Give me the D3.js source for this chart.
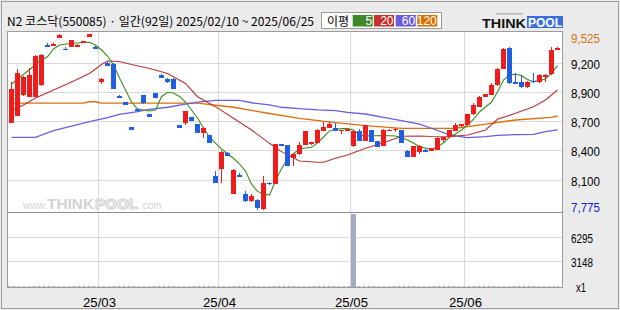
<!DOCTYPE html>
<html>
<head>
<meta charset="utf-8">
<script src="https://cdn.jsdelivr.net/npm/d3@7"></script>
<style>
html, body { margin: 0; padding: 0; background: #ebebeb; }
svg { display: block; }
</style>
</head>
<body>
<svg id="chart" width="620" height="310"></svg>
<script>
// trading days 2025/02/10 ~ 2025/06/25 (92)
var dates = [
    '02/10','02/11','02/12','02/13','02/14','02/17','02/18','02/19','02/20','02/21','02/24','02/25','02/26','02/27','02/28',
    '03/04','03/05','03/06','03/07','03/10','03/11','03/12','03/13','03/14','03/17','03/18','03/19','03/20','03/21','03/24','03/25','03/26','03/27','03/28','03/31',
    '04/01','04/02','04/03','04/04','04/07','04/08','04/09','04/10','04/11','04/14','04/15','04/16','04/17','04/18','04/21','04/22','04/23','04/24','04/25','04/28','04/29','04/30',
    '05/02','05/07','05/08','05/09','05/12','05/13','05/14','05/15','05/16','05/19','05/20','05/21','05/22','05/23','05/26','05/27','05/28','05/29','05/30',
    '06/02','06/04','06/05','06/09','06/10','06/11','06/12','06/13','06/16','06/17','06/18','06/19','06/20','06/23','06/24','06/25'
];

var open = [8640,8710,8915,8900,8900,9010,9415,9405,9485,9375,9395,9395,9435,9495,9395,9045,9235,9225,8910,8845,
    8595,8775,8915,8725,8935,9115,9075,9075,8615,8640,8695,8625,8535,8515,8110,8175,8340,7930,8115,7930,
    7855,7870,7780,8040,8030,8425,8415,8290,8325,8420,8425,8440,8560,8590,8585,8555,8560,8405,8555,8460,
    8565,8455,8410,8560,8565,8565,8360,8300,8345,8370,8360,8370,8465,8495,8560,8605,8620,8725,8800,8900,
    8920,9010,9175,9385,9040,9040,8990,9055,9040,9095,9120,9365];
var high = [9040,9175,9105,9185,9310,9320,9435,9435,9520,9390,9465,9425,9455,9525,9400,9080,9240,9230,8915,8850,
    8600,8780,8920,8730,8940,9120,9080,9080,8620,8760,8700,8630,8595,8520,8160,8355,8345,8175,8135,7960,
    7930,7875,8110,8045,8430,8430,8420,8335,8445,8560,8450,8580,8645,8645,8635,8570,8580,8560,8575,8620,
    8570,8460,8580,8575,8585,8570,8365,8410,8415,8375,8390,8495,8500,8570,8640,8630,8730,8840,8905,8930,
    9030,9180,9380,9390,9130,9115,9050,9135,9120,9120,9390,9390];
var low = [8635,8705,8910,8895,8895,9005,9390,9400,9480,9360,9390,9390,9430,9490,9370,9025,9200,8970,8885,8815,
    8565,8750,8830,8695,8885,9080,9035,8970,8585,8615,8655,8535,8490,8435,8035,8040,8305,7925,8095,7850,
    7850,7775,7775,8020,8025,8405,8205,8210,8320,8415,8420,8435,8555,8585,8555,8530,8555,8400,8455,8455,
    8445,8395,8405,8555,8545,8435,8295,8295,8325,8345,8355,8365,8445,8490,8555,8600,8615,8720,8795,8895,
    8915,9005,9170,9025,9020,8985,8985,9035,9035,9045,9115,9360];
var close = [8975,9135,9095,9115,9305,9315,9395,9425,9515,9365,9465,9410,9450,9525,9375,9075,9205,8975,8890,8820,
    8570,8755,8835,8700,8890,9085,9040,8975,8590,8755,8660,8540,8590,8440,8040,8350,8310,8170,8100,7855,
    7910,7785,8040,8025,8425,8410,8210,8330,8415,8555,8445,8565,8595,8625,8560,8565,8575,8555,8460,8615,
    8450,8400,8565,8570,8580,8440,8300,8405,8410,8350,8385,8490,8495,8565,8615,8625,8725,8815,8900,8925,
    9010,9175,9375,9030,9025,8990,9045,9040,9115,9115,9365,9385];
var volume = [0,0,0,0,0,0,0,0,0,0,0,0,0,0,0,0,0,0,0,0,
    0,0,0,0,0,0,0,0,0,0,0,0,0,0,0,0,0,0,0,0,
    0,0,0,0,0,0,0,0,0,0,0,0,0,0,0,0,0,9443,0,0,
    0,0,0,0,0,0,0,0,0,0,0,0,0,0,0,0,0,0,0,0,
    0,0,0,0,0,0,0,0,0,0,0,0];

// moving averages: [day index, value]
var ma5 = [[0,9025],[5,9264],[6,9296],[7,9373],[8,9413],[10,9430],[13,9440],[14,9413],[15,9363],[16,9303],[17,9214],
    [18,9084],[19,8965],[20,8845],[21,8776],[23,8756],[24,8766],[25,8898],[26,8942],[27,8935],[28,8900],[29,8845],
    [31,8686],[32,8587],[33,8497],[34,8437],[35,8377],[36,8328],[37,8285],[38,8228],[39,8158],[40,8030],[41,7955],
    [42,7929],[43,7919],[44,8060],[45,8180],[46,8280],[47,8330],[48,8377],[49,8387],[50,8394],[51,8437],[52,8497],
    [53,8557],[54,8572],[55,8580],[56,8580],[57,8567],[58,8517],[59,8507],[62,8512],[64,8507],[65,8492],[66,8467],
    [67,8437],[68,8400],[70,8374],[71,8402],[72,8437],[73,8497],[74,8527],[75,8567],[76,8616],[77,8676],[78,8746],
    [79,8796],[80,8845],[81,8945],[82,9064],[83,9114],[84,9121],[85,9109],[86,9069],[87,9048],[88,9059],[89,9074],
    [90,9134],[91,9207]];
var ma20 = [[0,8761],[2,8816],[4,8885],[7,8965],[10,9045],[13,9129],[15,9219],[16,9254],[18,9249],[20,9219],[23,9179],
    [26,9129],[29,9030],[31,8898],[34,8799],[37,8683],[40,8567],[43,8434],[45,8351],[48,8258],[51,8245],[52,8245],
    [54,8285],[56,8318],[59,8384],[62,8440],[65,8504],[68,8507],[70,8502],[73,8500],[76,8517],[79,8567],[81,8673],
    [84,8733],[87,8799],[89,8865],[91,8965]];
var ma60 = [[0,8494],[4,8494],[7,8560],[10,8606],[13,8649],[16,8689],[18,8723],[21,8749],[23,8773],[26,8793],[29,8825],
    [31,8845],[34,8862],[38,8862],[40,8838],[43,8816],[45,8793],[48,8779],[51,8766],[54,8759],[56,8743],[59,8726],
    [62,8693],[65,8659],[68,8626],[70,8584],[73,8517],[76,8490],[79,8500],[81,8514],[84,8520],[87,8524],[89,8550],
    [91,8567]];
var ma120 = [[0,8835],[12,8835],[13,8848],[14,8848],[15,8835],[31,8835],[37,8793],[43,8731],[48,8683],[54,8641],
    [59,8611],[65,8582],[74,8584],[79,8626],[84,8666],[90,8693],[91,8706]];

var priceMin = 7775, priceMax = 9525, volumeMax = 9443;
var volumeTicks = [6295, 3148];
var legendItems = ['5', '20', '60', '120'];
var legendColors = ['#3b8a26', '#c8322c', '#6a5ce0', '#dc7003'];
var lineColors = ['#3d8c1f', '#b83434', '#6b5ddf', '#d9700c'];

var titleText = 'N2 코스닥(550085) · 일간(92일) 2025/02/10 ~ 2025/06/25';

var svg = d3.select('#chart');
var frame = { left: 7.5, right: 562.5, top: 31.5, split: 212.5, bottom: 287.5 };
var numFont = '"Liberation Sans", Arial, sans-serif';
var krFont = '"Noto Sans CJK KR", "Noto Sans", sans-serif';

var x = d3.scaleBand().domain(d3.range(dates.length)).range([8.5, 8.5 + 6 * dates.length]);
var y = d3.scaleLinear().domain([priceMin, priceMax]).range([209.5, 33.75]);
var yv = d3.scaleLinear().domain([0, volumeMax]).range([287, 212]);
var cx = function (i) { return x(i) + x.bandwidth() / 2; };

// background + outer border
svg.append('rect').attr('width', 620).attr('height', 310).attr('fill', '#ebebeb');
svg.append('rect').attr('x', 1.5).attr('y', 1.5).attr('width', 617).attr('height', 307)
    .attr('fill', 'none').attr('stroke', '#9e9e9e');

// title
svg.append('text').attr('x', 7).attr('y', 26).attr('font-family', krFont).attr('font-size', 12)
    .attr('textLength', 307).attr('lengthAdjust', 'spacingAndGlyphs').attr('fill', '#000').text(titleText);

// legend
var lg = svg.append('g');
lg.append('rect').attr('x', 321.5).attr('y', 12.5).attr('width', 120).attr('height', 16)
    .attr('fill', '#fff').attr('stroke', '#9a9a9a');
lg.append('text').attr('x', 327).attr('y', 25.5).attr('font-family', krFont).attr('font-size', 12).text('이평');
var boxX = [352.7, 374, 395.7, 417.3];
legendItems.forEach(function (label, k) {
    lg.append('rect').attr('x', boxX[k]).attr('y', 15).attr('width', 20).attr('height', 11.5).attr('fill', legendColors[k]);
    lg.append('text').attr('x', boxX[k] + 19.5).attr('y', 25).attr('text-anchor', 'end')
        .attr('font-family', numFont).attr('font-size', 12).attr('fill', '#fff').text(label);
});

// logo (the tiny tagline above it is just a grey smudge)
var logo = svg.append('g');
logo.append('rect').attr('x', 496).attr('y', 13).attr('width', 27).attr('height', 1.5).attr('fill', '#b5b5b5');
logo.append('text').attr('x', 482).attr('y', 27.5).attr('font-family', numFont).attr('font-weight', 'bold')
    .attr('font-size', 13).attr('textLength', 44).attr('lengthAdjust', 'spacingAndGlyphs').attr('fill', '#111').text('THINK');
logo.append('rect').attr('x', 527).attr('y', 16).attr('width', 36).attr('height', 12).attr('fill', '#3a6fd9');
logo.append('text').attr('x', 528).attr('y', 27).attr('font-family', numFont).attr('font-weight', 'bold')
    .attr('font-size', 12).attr('textLength', 34).attr('lengthAdjust', 'spacingAndGlyphs').attr('fill', '#fff').text('POOL');

// plot area
svg.append('rect').attr('x', frame.left).attr('y', frame.top)
    .attr('width', frame.right - frame.left).attr('height', frame.bottom - frame.top).attr('fill', '#fff');

var grid = svg.append('g').attr('stroke', '#d9d9d9').attr('shape-rendering', 'crispEdges');
var priceTicks = d3.range(1, 6).map(function (k) { return priceMin + k * (priceMax - priceMin) / 6; });
priceTicks.forEach(function (v) {
    var gy = Math.floor(y(v)) + 0.5;
    grid.append('line').attr('x1', frame.left).attr('x2', frame.right).attr('y1', gy).attr('y2', gy);
});
volumeTicks.forEach(function (v) {
    var gy = Math.floor(yv(v)) + 0.5;
    grid.append('line').attr('x1', frame.left).attr('x2', frame.right).attr('y1', gy).attr('y2', gy);
});
var monthStarts = [];
dates.forEach(function (d, i) {
    if (i > 0 && d.slice(0, 2) !== dates[i - 1].slice(0, 2)) { monthStarts.push(i); }
});
monthStarts.forEach(function (i) {
    grid.append('line').attr('x1', x(i)).attr('x2', x(i)).attr('y1', frame.top).attr('y2', frame.bottom);
});
svg.append('line').attr('x1', frame.left).attr('x2', frame.right - 3).attr('y1', 286.5).attr('y2', 286.5)
    .attr('stroke', '#b4b4b4').attr('stroke-dasharray', '3,2');

// watermark
var wm = svg.append('g').attr('fill', '#d2d2d2').attr('font-family', numFont);
wm.append('text').attr('x', 23).attr('y', 209).attr('font-size', 10).text('www.');
wm.append('text').attr('x', 47).attr('y', 209).attr('font-size', 15).attr('font-weight', 'bold')
    .attr('textLength', 47).attr('lengthAdjust', 'spacingAndGlyphs').text('THINK');
wm.append('text').attr('x', 95).attr('y', 209).attr('font-size', 15).attr('font-weight', 'bold')
    .attr('textLength', 43).attr('lengthAdjust', 'spacingAndGlyphs').attr('fill', '#fff')
    .attr('stroke', '#d2d2d2').attr('stroke-width', 1.2).text('POOL');
wm.append('text').attr('x', 140).attr('y', 209).attr('font-size', 10).text('.com');

// moving average lines
var maLine = d3.line().x(function (d) { return cx(d[0]); }).y(function (d) { return y(d[1]); });
[ma120, ma60, ma20, ma5].forEach(function (series, k) {
    svg.append('path').datum(series).attr('d', maLine).attr('fill', 'none')
        .attr('stroke', lineColors[3 - k]).attr('stroke-width', k < 2 ? 1.3 : 1.1);
});

// candles
var up = '#f01c1c', down = '#2060e0';
var candles = svg.append('g').attr('shape-rendering', 'crispEdges');
dates.forEach(function (d, i) {
    var col = close[i] >= open[i] ? up : down;
    var top = Math.round(y(Math.max(open[i], close[i])));
    var bot = Math.round(y(Math.min(open[i], close[i])));
    candles.append('line').attr('x1', cx(i)).attr('x2', cx(i))
        .attr('y1', Math.round(y(high[i]))).attr('y2', Math.round(y(low[i]))).attr('stroke', col);
    candles.append('rect').attr('x', x(i) + 0.5).attr('y', top).attr('width', 5)
        .attr('height', Math.max(1, bot - top)).attr('fill', col);
});

// volume
var vol = svg.append('g').attr('shape-rendering', 'crispEdges');
volume.forEach(function (v, i) {
    if (v <= 0) { return; }
    vol.append('rect').attr('x', x(i)).attr('y', yv(v) + 2).attr('width', 5)
        .attr('height', 287 - yv(v) - 2).attr('fill', '#a2abc2');
});

// frame lines
svg.append('rect').attr('x', frame.left).attr('y', frame.top)
    .attr('width', frame.right - frame.left).attr('height', frame.bottom - frame.top)
    .attr('fill', 'none').attr('stroke', '#9c9c9c');
svg.append('line').attr('x1', frame.left).attr('x2', frame.right).attr('y1', frame.split).attr('y2', frame.split)
    .attr('stroke', '#8c8c8c');

// right axis labels
var fmt = d3.format(',');
var axis = svg.append('g').attr('font-family', numFont).attr('font-size', 13);
var addLabel = function (txt, ty, color, len, lx) {
    axis.append('text').attr('x', lx || 571).attr('y', ty + 4.8).attr('fill', color)
        .attr('textLength', len).attr('lengthAdjust', 'spacingAndGlyphs').text(txt);
};
addLabel(fmt(priceMax), 38.3, '#d47214', 29);
priceTicks.forEach(function (v) {
    addLabel(fmt(Math.round(v / 100) * 100), Math.floor(y(v)) + 1, '#000', 29);
});
addLabel(fmt(priceMin), 207.5, '#1420d0', 29);
volumeTicks.forEach(function (v) {
    addLabel(String(v), Math.floor(yv(v)) + 1.5, '#000', 22);
});
addLabel('x1', 286.7, '#000', 10, 576);

// month labels
monthStarts.forEach(function (i) {
    axis.append('text').attr('x', x(i) + 1).attr('y', 306.5).attr('text-anchor', 'middle')
        .attr('textLength', 33).attr('lengthAdjust', 'spacingAndGlyphs').attr('fill', '#000')
        .text('25/' + dates[i].slice(0, 2));
});
</script>
</body>
</html>
